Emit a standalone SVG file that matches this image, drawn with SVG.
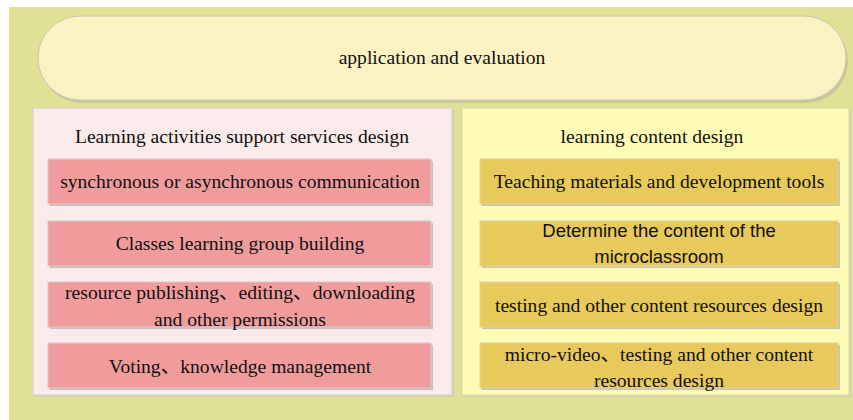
<svg xmlns="http://www.w3.org/2000/svg" width="853" height="420" viewBox="0 0 853 420">
<defs>
<style>
.t{font-family:"Liberation Serif","Noto Sans CJK SC",serif;font-size:19.6px;fill:#111;text-anchor:middle}
.s{font-family:"Liberation Sans","Noto Sans CJK SC",sans-serif;font-size:18.5px;fill:#111;text-anchor:middle}
.sh{fill:#b9b9a8;opacity:0.8}
.pink{fill:#f09c9d;stroke:#d8c8c8;stroke-width:1}
.gold{fill:#e8c95b;stroke:#dcd2a8;stroke-width:1}
</style>
</defs>
<rect width="853" height="420" fill="#ffffff"/>
<rect x="9" y="7" width="844" height="413" fill="#e0e195"/>
<g id="top">
<rect x="40" y="19" width="808" height="84" rx="42" fill="#b8b8a0" opacity="0.6"/>
<rect x="38" y="16" width="808" height="84" rx="42" fill="#fbf2c4" stroke="#c8c8b4" stroke-width="1"/>
<text class="t" x="442" y="64">application and evaluation</text>
</g>
<g id="left-panel">
<rect x="35" y="110" width="419" height="287" fill="#c8c8b0" opacity="0.6"/>
<rect x="33" y="108" width="419" height="287" fill="#fbeaea" stroke="#d4d0cc" stroke-width="1"/>
<text class="t" x="242" y="143">Learning activities support services design</text>
</g>
<g id="right-panel">
<rect x="464" y="110" width="387" height="287" fill="#c8c8b0" opacity="0.6"/>
<rect x="462" y="108" width="387" height="287" fill="#fdfbb5" stroke="#d8d6b8" stroke-width="1"/>
<text class="t" x="652" y="143">learning content design</text>
</g>
<g id="l1">
<rect class="sh" x="50" y="161" width="383" height="45"/>
<rect class="pink" x="48" y="159" width="383" height="45"/>
<text class="t" x="240" y="188">synchronous or asynchronous communication</text>
</g>
<g id="l2">
<rect class="sh" x="50" y="223" width="383" height="45"/>
<rect class="pink" x="48" y="221" width="383" height="45"/>
<text class="t" x="240" y="250">Classes learning group building</text>
</g>
<g id="l3">
<rect class="sh" x="50" y="284" width="383" height="45"/>
<rect class="pink" x="48" y="282" width="383" height="45"/>
<text class="t" x="240" y="299">resource publishing、editing、downloading</text>
<text class="t" x="240" y="326">and other permissions</text>
</g>
<g id="l4">
<rect class="sh" x="50" y="345" width="383" height="45"/>
<rect class="pink" x="48" y="343" width="383" height="45"/>
<text class="t" x="240" y="373">Voting、knowledge management</text>
</g>
<g id="r1">
<rect class="sh" x="482" y="161" width="358" height="45"/>
<rect class="gold" x="480" y="159" width="358" height="45"/>
<text class="t" x="659" y="188">Teaching materials and development tools</text>
</g>
<g id="r2">
<rect class="sh" x="482" y="223" width="358" height="45"/>
<rect class="gold" x="480" y="221" width="358" height="45"/>
<text class="s" x="659" y="237">Determine the content of the</text>
<text class="s" x="659" y="263">microclassroom</text>
</g>
<g id="r3">
<rect class="sh" x="482" y="284" width="358" height="45"/>
<rect class="gold" x="480" y="282" width="358" height="45"/>
<text class="t" x="659" y="312">testing and other content resources design</text>
</g>
<g id="r4">
<rect class="sh" x="482" y="345" width="358" height="45"/>
<rect class="gold" x="480" y="343" width="358" height="45"/>
<text class="t" x="659" y="361">micro-video、testing and other content</text>
<text class="t" x="659" y="387">resources design</text>
</g>
<g id="connectors"></g>
</svg>
